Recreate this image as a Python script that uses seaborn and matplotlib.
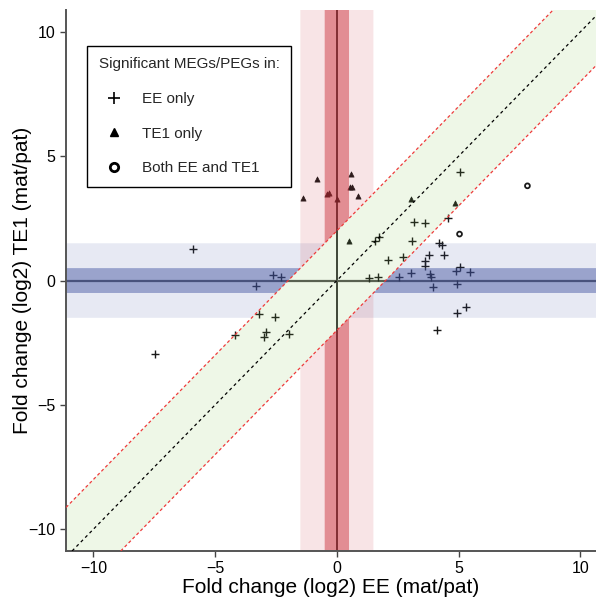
import numpy as np
import pandas as pd
import matplotlib
matplotlib.use('Agg')
import matplotlib.pyplot as plt
import seaborn as sns
from matplotlib.lines import Line2D

# genes significativos so em EE
ee_x = [5.05, 3.17, 3.61, 4.55, 1.74, 1.56, 3.07, 4.20, 4.30, 2.12, 2.72, 3.79, 4.39, 3.61,
        3.63, 5.05, 2.56, 3.04, 3.82, 3.87, 4.89, 5.47, 3.93, 4.94, 5.31, 4.92, 4.12, 1.33,
        1.68, -2.64, -2.30, -3.34, -3.19, -2.55, -4.20, -2.92, -2.99, -1.97, -5.93, -7.47]
ee_y = [4.38, 2.35, 2.31, 2.53, 1.74, 1.60, 1.58, 1.50, 1.43, 0.84, 0.93, 1.03, 1.03, 0.80,
        0.58, 0.56, 0.15, 0.29, 0.25, 0.15, 0.37, 0.33, -0.27, -0.14, -1.07, -1.31, -2.00, 0.10,
        0.13, 0.22, 0.14, -0.21, -1.36, -1.48, -2.21, -2.08, -2.27, -2.14, 1.26, -2.97]

# genes significativos so em TE1
te1_x = [0.60, -0.81, -1.38, -0.42, -0.32, -0.01, 0.55, 0.63, 0.87, 0.48, 3.04, 4.85]
te1_y = [4.27, 4.07, 3.31, 3.47, 3.51, 3.28, 3.76, 3.75, 3.40, 1.60, 3.28, 3.11]

# significativos nos dois
both_x = [5.04, 7.83]
both_y = [1.87, 3.81]

# limites das faixas
inner_band = 0.5
outer_band = 1.5
diag_band = 2

xmin, xmax = -11.13, 10.64
ymin, ymax = -10.88, 10.88

sns.set_theme(style='ticks')
plt.rcParams['font.family'] = ['Liberation Sans', 'DejaVu Sans']

fig = plt.figure(figsize=(5.96, 6.01), dpi=100)
ax = fig.add_axes([0.1107, 0.0832, 0.889, 0.900])

# pontos
pt_color = '#1a1a1a'
sns.scatterplot(x=ee_x, y=ee_y, marker='+', s=30, color=pt_color, linewidth=1.0, ax=ax,
                zorder=1, legend=False)
sns.scatterplot(x=te1_x, y=te1_y, marker='^', s=14, color=pt_color, edgecolor=pt_color,
                linewidth=0.5, ax=ax, zorder=1, legend=False)
ax.scatter(both_x, both_y, marker='o', s=12, facecolors='none', edgecolors=pt_color,
           linewidths=1.3, zorder=1)

# linhas x=0 e y=0
ax.axvline(0, color='black', lw=1.1, zorder=0.8)
ax.axhline(0, color='#555555', lw=1.6, zorder=0.8)

# faixas (fora da diagonal)
far = 30
blue = '#3f51a0'
red = '#c82832'
for b, a in [(outer_band, 0.12), (inner_band, 0.46)]:
    ys = np.array([-b, b])
    ax.fill_betweenx(ys, -far, ys - diag_band, color=blue, alpha=a, lw=0, zorder=2)
    ax.fill_betweenx(ys, ys + diag_band, far, color=blue, alpha=a, lw=0, zorder=2)
    xs = np.array([-b, b])
    ax.fill_between(xs, xs + diag_band, far, color=red, alpha=a, lw=0, zorder=2)
    ax.fill_between(xs, -far, xs - diag_band, color=red, alpha=a, lw=0, zorder=2)

# faixa diagonal
xs = np.array([-far, far])
ax.fill_between(xs, xs - diag_band, xs + diag_band, color='#78be3c', alpha=0.12, lw=0, zorder=2)
ax.axline((0, 0), slope=1, color='black', ls=(0, (2.5, 2.5)), lw=0.9, zorder=3)
ax.axline((0, diag_band), slope=1, color='#ee3b3b', ls=(0, (2.5, 2)), lw=0.9, zorder=3)
ax.axline((0, -diag_band), slope=1, color='#ee3b3b', ls=(0, (2.5, 2)), lw=0.9, zorder=3)

ax.set_xlim(xmin, xmax)
ax.set_ylim(ymin, ymax)
ax.set_xticks([-10, -5, 0, 5, 10])
ax.set_yticks([-10, -5, 0, 5, 10])
ax.tick_params(labelsize=11.5, length=4, width=1, color='#444444', labelcolor='black')
sns.despine(ax=ax)
for s in ['left', 'bottom']:
    ax.spines[s].set_color('#555555')
    ax.spines[s].set_linewidth(1.4)

ax.set_xlabel('Fold change (log2) EE (mat/pat)', fontsize=15, color='black', labelpad=1)
ax.set_ylabel('Fold change (log2) TE1 (mat/pat)', fontsize=15, color='black', labelpad=0)
ax.yaxis.set_label_coords(-0.064, 0.5)

handles = [
    Line2D([], [], marker='+', ls='', color='black', markersize=9, mew=1.2, label='EE only'),
    Line2D([], [], marker='^', ls='', color='black', markersize=6, label='TE1 only'),
    Line2D([], [], marker='o', ls='', mfc='none', mec='black', mew=2, markersize=6,
           label='Both EE and TE1'),
]
leg = ax.legend(handles=handles, title='Significant MEGs/PEGs in:', loc='upper left',
                bbox_to_anchor=(0.04, 0.934), fontsize=11, title_fontsize=11, frameon=True,
                fancybox=False, edgecolor='black', framealpha=1, labelspacing=1.35,
                handletextpad=0.85, borderpad=0.75, borderaxespad=0)
leg.get_frame().set_linewidth(1.0)
leg._legend_box.align = 'left'
leg.set_zorder(5)

fig.savefig('out.png', dpi=100)
